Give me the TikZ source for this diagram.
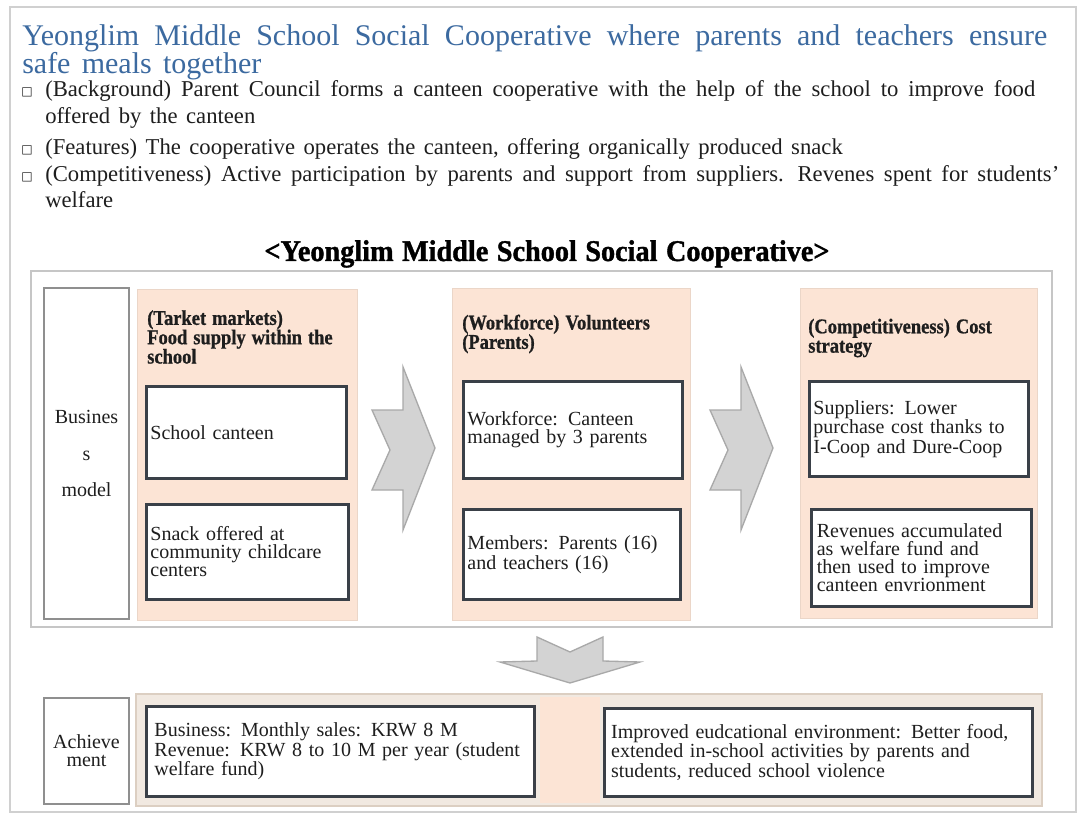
\documentclass[tikz,border=0pt]{standalone}
\usepackage{fontspec}
\usepackage{graphicx}
\setmainfont{Liberation Serif}[WordSpace=1.5]
\newfontfamily\headfont{Liberation Serif}[FakeStretch=0.88,FakeBold=0.8,WordSpace=1.3]
\newfontfamily\capfont{Liberation Serif}[FakeStretch=0.85,FakeBold=1.2,WordSpace=1.2]
\newfontfamily\symfont{DejaVu Sans}
\definecolor{peach}{HTML}{FCE4D5}
\definecolor{peachline}{HTML}{EBD6C8}
\definecolor{panelfill}{HTML}{F1E9E1}
\definecolor{panelline}{HTML}{DCCFC2}
\definecolor{boxline}{HTML}{3A4048}
\definecolor{tagline}{HTML}{8F8F8F}
\definecolor{frameline}{HTML}{C6C6C6}
\definecolor{pageline}{HTML}{D0D0D0}
\definecolor{arrowfill}{HTML}{D3D3D3}
\definecolor{arrowline}{HTML}{A9A9A9}
\definecolor{titleblue}{HTML}{3C6AA0}
\definecolor{ink}{HTML}{1E1E1E}
\newcommand{\boxtext}{\fontsize{15}{13.5}\selectfont}
\newcommand{\bodytext}{\fontsize{17}{20}\selectfont}
\newcommand{\headtext}{\headfont\bfseries\fontsize{15.75}{14.5}\selectfont}
\newcommand{\sqmark}{{\symfont\fontsize{9}{9}\selectfont □}}
\tikzset{
  cell/.style={draw=boxline, line width=2.2pt, fill=white, anchor=north west, align=left,
    inner xsep=3pt, inner ysep=0pt, font=\boxtext, text=ink},
  tag/.style={draw=tagline, line width=1.5pt, fill=white, anchor=north west, align=center,
    inner sep=0pt, font=\boxtext, text=ink},
  column/.style={fill=peach, draw=peachline, line width=0.6pt, anchor=north west, inner sep=0pt},
  head/.style={anchor=west, align=left, inner sep=0pt, font=\headtext, text=ink},
  line/.style={anchor=base west, inner sep=0pt, font=\bodytext, text=ink},
  chevron/.style={fill=arrowfill, draw=arrowline, line width=1pt, line join=miter}
}
\begin{document}
\begin{tikzpicture}[x=0.75pt, y=-0.75pt]
    \useasboundingbox (0,0) rectangle (1083,820);
    \fill[white] (0,0) rectangle (1083,820);
    \draw[pageline, line width=2pt] (10,7) rectangle (1076,812);
    % heading and bullet list
    \node[line, font=\fontsize{22.5}{18.75}\selectfont, text=titleblue] (title1) at (22,46)
        {\makebox[768.75pt][s]{Yeonglim Middle School Social Cooperative where parents and teachers ensure}};
    \node[line, font=\fontsize{22.5}{18.75}\selectfont, text=titleblue] (title2) at (22,74) {safe meals together};
    \node[line] (sq1) at (21,96) {\sqmark};
    \node[line] (item1) at (45,97)
        {\makebox[742.5pt][s]{(Background) Parent Council forms a canteen cooperative with the help of the school to improve food}};
    \node[line] (item1b) at (45,124) {offered by the canteen};
    \node[line] (sq2) at (21,154) {\sqmark};
    \node[line] (item2) at (45,155) {(Features) The cooperative operates the canteen, offering organically produced snack};
    \node[line] (sq3) at (21,181) {\sqmark};
    \node[line] (item3) at (45,182)
        {\makebox[760.5pt][s]{(Competitiveness) Active participation by parents and support from suppliers. Revenes spent for students'}};
    \node[line] (item3b) at (45,208) {welfare};
    \node[anchor=base, inner sep=0pt, font=\capfont\bfseries\fontsize{22.5}{24}\selectfont, text=black] (caption) at (547,261)
        {\resizebox{423.75pt}{\height}{<Yeonglim Middle School Social Cooperative>}};
    % business model
    \draw[frameline, line width=2.2pt] (31,271) rectangle (1052,627);
    \node[tag, minimum width=63.75pt, minimum height=248.25pt] (business) at (43,287)
        {Busines\\[14pt]s\\[14pt]model};
    \node[column, minimum width=165pt, minimum height=248.25pt] (col1) at (137,289) {};
    \node[column, minimum width=178.5pt, minimum height=249pt] (col2) at (452,288) {};
    \node[column, minimum width=177.75pt, minimum height=247.5pt] (col3) at (800,288) {};
    \node[head] (market) at (147,337) {(Tarket markets)\\Food supply within the\\school};
    \node[head] (workforce) at (462,334) {(Workforce) Volunteers\\(Parents)};
    \node[head] (strategy) at (808,338) {(Competitiveness) Cost\\strategy};
    \node[cell, minimum width=150pt, minimum height=69pt, text width=144pt] (canteen) at (145,385)
        {School canteen};
    \node[cell, minimum width=151.5pt, minimum height=71.25pt, text width=145.5pt] (snack) at (145,503)
        {Snack offered at\\community childcare\\centers};
    \node[cell, minimum width=164.25pt, minimum height=72.75pt, text width=158.25pt] (staff) at (462,380)
        {Workforce: Canteen\\managed by 3 parents};
    \node[cell, minimum width=162.75pt, minimum height=67.5pt, text width=156.75pt] (members) at (462,508)
        {Members: Parents (16)\\and teachers (16)};
    \node[cell, minimum width=164.25pt, minimum height=71.25pt, text width=158.25pt] (suppliers) at (808,380)
        {Suppliers: Lower\\purchase cost thanks to\\I-Coop and Dure-Coop};
    \node[cell, minimum width=165pt, minimum height=72.75pt, text width=157pt, inner xsep=4pt] (fund) at (810,508)
        {Revenues accumulated\\as welfare fund and\\then used to improve\\canteen envrionment};
    \foreach \dx in {0,338}{
        \draw[chevron, xshift=\dx*0.75pt] (372,410) -- (403,410) -- (403,367) -- (435,448)
            -- (403,530) -- (403,490) -- (372,490) -- (390,450) -- cycle;}
    \draw[chevron] (537,637) -- (570,652) -- (603,637) -- (603,661) -- (640,662)
        -- (570,683) -- (500,662) -- (537,661) -- cycle;
    % achievement
    \node[tag, minimum width=63.75pt, minimum height=79.5pt] (achieve) at (43,697) {Achieve\\ment};
    \node[column, fill=panelfill, draw=panelline, line width=1.5pt, minimum width=679.5pt, minimum height=84pt]
        (panel) at (135,693) {};
    \node[column, draw=none, minimum width=45pt, minimum height=79.5pt] (gap) at (540,697) {};
    \node[cell, minimum width=291pt, minimum height=67.5pt, text width=279pt, inner xsep=6pt] (sales) at (145,705)
        {Business: Monthly sales: KRW 8 M\\Revenue: KRW 8 to 10 M per year (student\\welfare fund)};
    \node[cell, minimum width=321pt, minimum height=66pt, text width=311pt, inner xsep=5pt] (school) at (603,707)
        {Improved eudcational environment: Better food,\\extended in-school activities by parents and\\students, reduced school violence};
\end{tikzpicture}
\end{document}
